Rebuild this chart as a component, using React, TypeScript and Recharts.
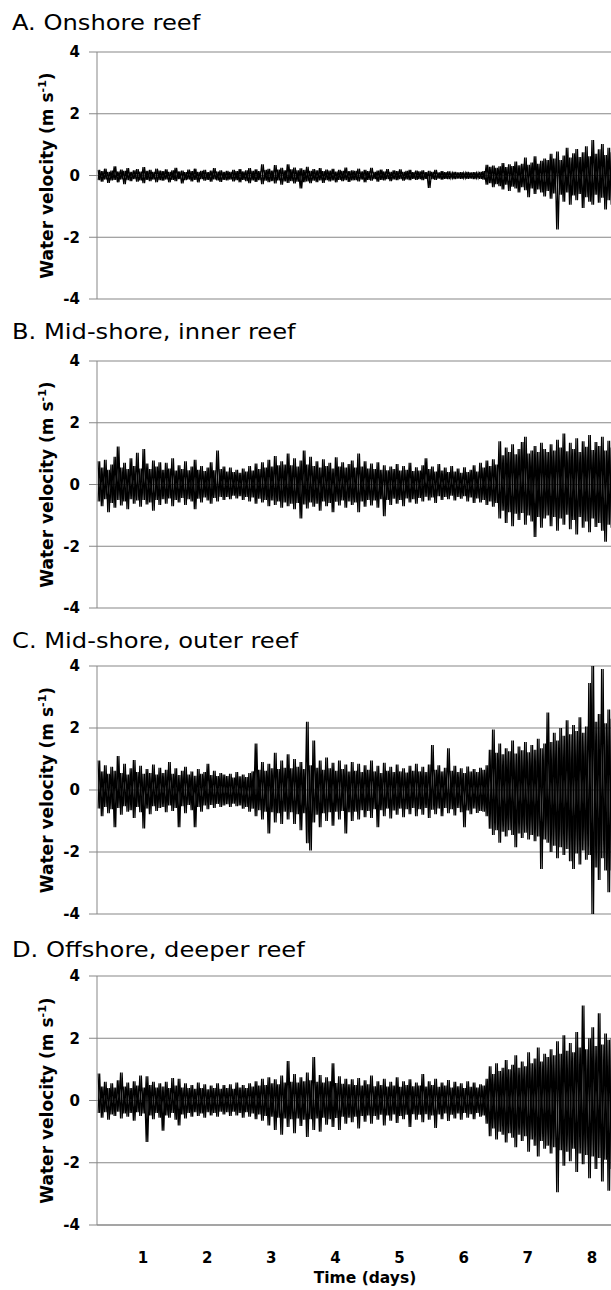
import { useMemo } from 'react'
import { LineChart, Line, XAxis, YAxis, CartesianGrid } from 'recharts'

// samples: upper peak at T0 + i*STEP, lower peak half a step later
const T0 = 0.3
const STEP = 0.05
const X_MIN = 0.283
const X_MAX = 8.64
const DAY_TICKS = [1, 2, 3, 4, 5, 6, 7, 8]
const VEL_TICKS = [-4, -2, 0, 2, 4]

const onshoreUp = [
  0.18, 0.14, 0.22, 0.12, 0.16, 0.30, 0.13, 0.19, 0.15, 0.24, 0.12, 0.17, 0.21, 0.13, 0.27, 0.15, 0.18, 0.12, 0.22, 0.16,
  0.14, 0.20, 0.12, 0.17, 0.25, 0.13, 0.16, 0.11, 0.19, 0.14, 0.22, 0.12, 0.15, 0.18, 0.11, 0.16, 0.24, 0.13, 0.17, 0.12,
  0.15, 0.12, 0.18, 0.14, 0.21, 0.13, 0.17, 0.24, 0.15, 0.20, 0.14, 0.36, 0.18, 0.22, 0.16, 0.34, 0.19, 0.25, 0.17, 0.36,
  0.20, 0.26, 0.17, 0.23, 0.18, 0.28, 0.15, 0.21, 0.17, 0.24, 0.14, 0.19, 0.16, 0.22, 0.13, 0.18, 0.15, 0.26, 0.14, 0.17,
  0.15, 0.22, 0.13, 0.18, 0.14, 0.25, 0.12, 0.16, 0.19, 0.13, 0.21, 0.12, 0.17, 0.14, 0.20, 0.12, 0.15, 0.18, 0.11, 0.16,
  0.13, 0.17, 0.11, 0.15, 0.12, 0.18, 0.10, 0.14, 0.11, 0.13, 0.09, 0.12, 0.10, 0.11, 0.09, 0.12, 0.10, 0.11, 0.09, 0.12,
  0.14, 0.35, 0.28, 0.32, 0.25, 0.30, 0.40, 0.27, 0.36, 0.31, 0.45, 0.33, 0.38, 0.58, 0.35, 0.42, 0.62, 0.38, 0.48, 0.55,
  0.50, 0.70, 0.55, 0.78, 0.50, 0.65, 0.90, 0.58, 0.72, 0.86, 0.60, 0.75, 0.95, 0.62, 1.15, 0.70, 0.85, 1.02, 0.66, 0.90,
  0.75,
]
const onshoreDn = [
  -0.15, -0.20, -0.13, -0.24, -0.16, -0.14, -0.22, -0.13, -0.28, -0.15, -0.18, -0.12, -0.20, -0.16, -0.25, -0.14, -0.18, -0.13, -0.22, -0.15,
  -0.17, -0.13, -0.22, -0.14, -0.18, -0.12, -0.26, -0.15, -0.13, -0.19, -0.14, -0.22, -0.12, -0.17, -0.14, -0.20, -0.13, -0.16, -0.21, -0.14,
  -0.16, -0.13, -0.19, -0.15, -0.22, -0.14, -0.18, -0.25, -0.16, -0.21, -0.15, -0.28, -0.17, -0.22, -0.18, -0.26, -0.16, -0.30, -0.19, -0.24,
  -0.18, -0.26, -0.20, -0.42, -0.22, -0.19, -0.25, -0.17, -0.22, -0.16, -0.24, -0.15, -0.19, -0.16, -0.22, -0.14, -0.18, -0.15, -0.21, -0.16,
  -0.15, -0.19, -0.13, -0.22, -0.14, -0.17, -0.12, -0.20, -0.14, -0.16, -0.12, -0.18, -0.13, -0.15, -0.12, -0.17, -0.13, -0.15, -0.11, -0.14,
  -0.12, -0.15, -0.11, -0.40, -0.12, -0.14, -0.10, -0.13, -0.11, -0.12, -0.09, -0.12, -0.10, -0.11, -0.09, -0.11, -0.10, -0.12, -0.09, -0.11,
  -0.13, -0.30, -0.25, -0.38, -0.28, -0.35, -0.45, -0.30, -0.50, -0.36, -0.42, -0.55, -0.38, -0.48, -0.70, -0.42, -0.60, -0.45, -0.55, -0.68,
  -0.50, -0.75, -0.58, -1.75, -0.62, -0.85, -0.55, -0.95, -0.65, -0.80, -0.60, -1.05, -0.70, -0.85, -0.95, -0.62, -0.88, -0.72, -1.10, -0.80,
  -0.95,
]

const innerUp = [
  0.75, 0.55, 0.80, 0.48, 0.65, 0.90, 1.23, 0.55, 0.70, 0.50, 0.85, 0.60, 1.03, 0.52, 1.15, 0.68, 0.50, 0.78, 0.58, 0.72,
  0.48, 0.70, 0.52, 0.85, 0.45, 0.62, 0.50, 0.75, 0.46, 0.58, 0.80, 0.48, 0.60, 0.44, 0.55, 0.72, 0.46, 1.10, 0.50, 0.58,
  0.42, 0.55, 0.40, 0.48, 0.38, 0.52, 0.42, 0.60, 0.45, 0.68, 0.50, 0.72, 0.55, 0.80, 0.58, 0.92, 0.62, 0.75, 0.65, 1.00,
  0.62, 0.85, 0.58, 0.78, 1.10, 0.65, 0.90, 0.60, 0.75, 0.55, 0.82, 0.60, 0.70, 0.52, 0.88, 0.58, 0.72, 0.55, 0.66, 0.78,
  0.55, 1.00, 0.58, 0.75, 0.52, 0.68, 0.50, 0.72, 0.48, 0.62, 0.46, 0.58, 0.50, 0.66, 0.45, 0.60, 0.48, 0.70, 0.44, 0.56,
  0.45, 0.62, 0.85, 0.50, 0.58, 0.42, 0.66, 0.45, 0.55, 0.40, 0.60, 0.42, 0.52, 0.38, 0.56, 0.40, 0.48, 0.62, 0.42, 0.70,
  0.55, 0.78, 0.60, 0.82, 0.65, 1.40, 0.95, 1.20, 1.05, 1.30, 0.98, 1.15, 1.38, 1.55, 1.00, 1.10, 1.25, 1.05, 1.35, 1.15,
  1.05, 1.30, 1.10, 1.45, 1.20, 1.65, 1.08, 1.35, 1.15, 1.50, 1.05, 1.40, 1.22, 1.60, 1.12, 1.38, 1.25, 1.55, 1.10, 1.42,
  1.20,
]
const innerDn = [
  -0.55, -0.70, -0.48, -0.90, -0.60, -0.75, -0.50, -0.68, -0.55, -0.80, -0.48, -0.62, -0.52, -0.72, -0.50, -0.65, -0.58, -0.85, -0.50, -0.66,
  -0.48, -0.62, -0.45, -0.70, -0.50, -0.58, -0.44, -0.66, -0.48, -0.55, -0.80, -0.46, -0.58, -0.42, -0.52, -0.62, -0.44, -0.55, -0.40, -0.50,
  -0.40, -0.48, -0.36, -0.45, -0.38, -0.50, -0.40, -0.55, -0.42, -0.62, -0.46, -0.58, -0.50, -0.70, -0.52, -0.66, -0.55, -0.75, -0.58, -0.70,
  -0.62, -0.80, -0.60, -1.10, -0.65, -0.78, -0.58, -0.72, -0.62, -0.85, -0.55, -0.70, -0.60, -0.90, -0.56, -0.68, -0.52, -0.75, -0.55, -0.66,
  -0.58, -0.90, -0.55, -0.72, -0.50, -0.68, -0.52, -0.75, -0.48, -1.03, -0.50, -0.66, -0.46, -0.62, -0.50, -0.70, -0.45, -0.58, -0.48, -0.62,
  -0.44, -0.55, -0.40, -0.52, -0.42, -0.60, -0.38, -0.50, -0.40, -0.48, -0.36, -0.52, -0.40, -0.46, -0.38, -0.55, -0.42, -0.60, -0.45, -0.58,
  -0.50, -0.66, -0.55, -0.72, -0.60, -1.10, -0.85, -1.25, -0.90, -1.35, -0.95, -1.15, -0.92, -1.30, -1.00, -1.20, -1.70, -1.05, -1.40, -1.10,
  -1.00, -1.35, -1.05, -1.50, -1.10, -1.30, -0.98, -1.45, -1.15, -1.62, -1.05, -1.40, -1.20, -1.55, -1.10, -1.38, -1.25, -1.50, -1.85, -1.30,
  -1.40,
]

const outerUp = [
  0.95, 0.60, 0.80, 0.52, 0.75, 0.62, 1.10, 0.55, 0.85, 0.50, 0.70, 0.97, 0.58, 0.78, 0.52, 0.68, 0.55, 0.82, 0.50, 0.72,
  0.55, 0.65, 0.90, 0.52, 0.70, 0.48, 0.62, 0.75, 0.50, 0.60, 0.46, 0.68, 0.52, 0.58, 0.85, 0.48, 0.62, 0.45, 0.55, 0.50,
  0.45, 0.52, 0.40, 0.58, 0.44, 0.50, 0.42, 0.55, 0.60, 1.50, 0.65, 0.90, 0.62, 0.85, 0.70, 1.20, 0.68, 0.95, 0.72, 1.15,
  0.70, 1.00, 0.75, 0.90, 0.68, 2.20, 0.80, 1.60, 0.72, 0.95, 0.65, 1.05, 0.70, 0.88, 0.62, 0.95, 0.68, 0.82, 0.60, 0.90,
  0.62, 0.85, 0.58, 0.80, 0.65, 0.95, 0.60, 0.78, 0.55, 0.88, 0.62, 0.75, 0.58, 0.82, 0.60, 0.70, 0.56, 0.78, 0.62, 0.85,
  0.60, 0.75, 0.58, 0.82, 1.45, 0.65, 0.80, 0.60, 0.72, 1.35, 0.62, 0.78, 0.58, 0.70, 0.55, 0.76, 0.60, 0.68, 0.58, 0.72,
  0.65, 0.80, 1.30, 1.95, 1.20, 1.50, 1.15, 1.35, 1.25, 1.60, 1.18, 1.40, 1.28, 1.55, 1.22, 1.45, 1.30, 1.65, 1.35, 1.50,
  2.50, 1.55, 1.85, 1.60, 2.00, 1.75, 2.25, 1.80, 2.10, 1.90, 2.35, 1.85, 2.05, 3.45, 4.00, 2.20, 2.45, 3.90, 2.15, 2.60,
  2.30,
]
const outerDn = [
  -0.60, -0.85, -0.55, -0.75, -0.62, -1.20, -0.58, -0.80, -0.52, -0.70, -0.65, -0.90, -0.55, -0.72, -1.24, -0.60, -0.78, -0.52, -0.68, -0.58,
  -0.55, -0.72, -0.50, -0.68, -0.58, -1.20, -0.52, -0.75, -0.48, -0.65, -1.20, -0.55, -0.70, -0.50, -0.62, -0.48, -0.58, -0.45, -0.55, -0.50,
  -0.46, -0.55, -0.44, -0.52, -0.50, -0.60, -0.55, -0.70, -0.60, -0.85, -0.65, -0.95, -0.70, -1.40, -0.72, -1.05, -0.75, -1.10, -0.70, -0.95,
  -0.72, -1.10, -0.78, -1.30, -0.75, -1.72, -1.95, -1.05, -0.80, -1.20, -0.75, -1.00, -0.72, -1.15, -0.70, -0.95, -0.68, -1.40, -0.72, -1.00,
  -0.70, -0.95, -0.65, -0.88, -0.68, -0.90, -0.62, -1.20, -0.65, -0.85, -0.60, -0.92, -0.66, -0.80, -0.60, -0.88, -0.62, -0.78, -0.58, -0.85,
  -0.62, -0.80, -0.58, -0.90, -0.64, -0.78, -0.60, -0.85, -0.58, -0.75, -0.62, -0.82, -0.58, -0.72, -1.20, -0.66, -0.78, -0.60, -0.74, -0.68,
  -0.70, -0.85, -1.25, -1.45, -1.30, -1.70, -1.35, -1.50, -1.30, -1.45, -1.85, -1.40, -1.55, -1.38, -1.60, -1.45, -1.65, -1.50, -2.55, -1.60,
  -1.70, -2.00, -1.80, -2.20, -1.85, -2.10, -1.90, -2.30, -2.55, -2.05, -2.40, -1.95, -2.25, -2.10, -4.00, -2.50, -2.90, -2.20, -2.60, -3.30,
  -2.60,
]

const deeperUp = [
  0.87, 0.45, 0.60, 0.40, 0.55, 0.42, 0.65, 0.90, 0.45, 0.58, 0.40, 0.62, 0.48, 0.80, 0.42, 0.78, 0.50, 0.60, 0.42, 0.55,
  0.45, 0.60, 0.40, 0.72, 0.48, 0.70, 0.42, 0.55, 0.40, 0.50, 0.38, 0.58, 0.40, 0.52, 0.36, 0.48, 0.40, 0.55, 0.38, 0.50,
  0.40, 0.52, 0.38, 0.58, 0.42, 0.50, 0.40, 0.55, 0.45, 0.62, 0.48, 0.70, 0.50, 0.75, 0.55, 0.68, 0.52, 0.80, 0.58, 1.27,
  0.60, 0.85, 0.58, 0.75, 0.62, 0.90, 0.65, 1.40, 0.60, 0.82, 0.58, 0.75, 0.62, 1.20, 0.56, 0.78, 0.54, 0.70, 0.52, 0.68,
  0.50, 0.72, 0.48, 0.65, 0.52, 0.80, 0.46, 0.62, 0.50, 0.70, 0.45, 0.60, 0.48, 0.75, 0.44, 0.62, 0.50, 0.68, 0.46, 0.58,
  0.48, 0.85, 0.45, 0.62, 0.50, 0.70, 0.44, 0.58, 0.48, 0.66, 0.42, 0.60, 0.46, 0.55, 0.40, 0.62, 0.44, 0.58, 0.42, 0.52,
  0.48, 0.70, 1.10, 0.85, 1.20, 0.95, 1.05, 1.30, 1.00, 1.15, 1.45, 1.05, 1.25, 1.10, 1.55, 1.20, 1.35, 1.70, 1.25, 1.50,
  1.40, 1.65, 1.45, 1.90, 1.50, 2.10, 1.60, 1.85, 1.55, 2.20, 1.70, 3.05, 1.65, 2.00, 2.35, 1.75, 2.80, 1.80, 2.15, 1.95,
  2.00,
]
const deeperDn = [
  -0.40, -0.55, -0.38, -0.62, -0.45, -0.50, -0.36, -0.58, -0.42, -0.52, -0.40, -0.65, -0.38, -0.50, -0.42, -1.33, -0.48, -0.60, -0.40, -0.55,
  -0.97, -0.48, -0.55, -0.40, -0.62, -0.80, -0.45, -0.58, -0.40, -0.52, -0.38, -0.50, -0.42, -0.55, -0.38, -0.48, -0.40, -0.52, -0.36, -0.45,
  -0.38, -0.50, -0.36, -0.48, -0.40, -0.55, -0.38, -0.52, -0.42, -0.60, -0.45, -0.65, -0.50, -0.80, -0.52, -0.95, -0.55, -1.10, -0.58, -0.85,
  -0.60, -1.05, -0.58, -0.82, -0.62, -1.17, -0.60, -0.95, -0.58, -1.00, -0.55, -0.78, -0.60, -0.85, -0.56, -0.95, -0.52, -0.75, -0.55, -0.70,
  -0.52, -0.90, -0.50, -0.68, -0.48, -0.75, -0.50, -0.62, -0.46, -0.80, -0.48, -0.65, -0.45, -0.72, -0.50, -0.60, -0.46, -0.85, -0.44, -0.62,
  -0.46, -0.70, -0.44, -0.62, -0.48, -0.88, -0.45, -0.60, -0.42, -0.66, -0.46, -0.58, -0.42, -0.62, -0.40, -0.55, -0.44, -0.60, -0.40, -0.52,
  -0.48, -0.75, -1.15, -0.90, -1.25, -1.00, -1.10, -1.35, -1.05, -1.20, -1.50, -1.10, -1.30, -1.15, -1.65, -1.25, -1.45, -1.80, -1.30, -1.55,
  -1.45, -1.70, -1.50, -2.95, -1.60, -2.10, -1.65, -1.95, -1.55, -2.30, -1.70, -2.05, -1.75, -2.50, -1.80, -2.20, -1.85, -2.60, -1.90, -2.90,
  -2.20,
]

const FONT = "'DejaVu Sans', Verdana, sans-serif"
const GRID = '#878787'
const PLOT_LEFT = 97
const CHART_W = 633

const panels = [
  { key: 'a', title: 'A. Onshore reef', up: onshoreUp, dn: onshoreDn, top: 52, h: 247, titleY: 30 },
  { key: 'b', title: 'B. Mid-shore, inner reef', up: innerUp, dn: innerDn, top: 361, h: 247, titleY: 339 },
  { key: 'c', title: 'C. Mid-shore, outer reef', up: outerUp, dn: outerDn, top: 666, h: 248, titleY: 648 },
  { key: 'd', title: 'D. Offshore, deeper reef', up: deeperUp, dn: deeperDn, top: 976, h: 249, titleY: 957 },
]

// two zig-zags through the same peaks, one starting high and one starting low,
// so the dense record reads as a filled band with spikes
function toSeries(up: number[], dn: number[]) {
  return up.flatMap((u, i) => [
    { t: T0 + i * STEP, v: u, w: dn[i] },
    { t: T0 + i * STEP + STEP / 2, v: dn[i], w: u },
  ])
}

function Panel({ p, last }: { p: (typeof panels)[number]; last: boolean }) {
  const data = useMemo(() => toSeries(p.up, p.dn), [p])
  const axisH = last ? 52 : 0
  return (
    <div style={{ position: 'absolute', left: 0, top: p.top - 10 }}>
      <LineChart width={CHART_W} height={p.h + 20 + axisH} data={data}
        margin={{ top: 10, right: 0, left: 0, bottom: 10 }}>
        <CartesianGrid vertical={false} stroke={GRID} />
        <XAxis type="number" dataKey="t" domain={[X_MIN, X_MAX]} allowDataOverflow
          ticks={DAY_TICKS} interval={0} hide={!last} height={axisH}
          axisLine={{ stroke: GRID }} tickLine={false} tickSize={0} tickMargin={27}
          tick={{ fill: '#000', fontFamily: FONT, fontSize: 15, fontWeight: 700 }} />
        <YAxis type="number" domain={[-4, 4]} ticks={VEL_TICKS} interval={0} allowDataOverflow
          width={PLOT_LEFT} tickSize={8} tickMargin={9}
          axisLine={{ stroke: GRID }} tickLine={{ stroke: GRID }}
          tick={{ fill: '#000', fontFamily: FONT, fontSize: 15, fontWeight: 700 }} />
        <Line type="linear" dataKey="v" stroke="#000" strokeWidth={1.2} dot={false}
          isAnimationActive={false} />
        <Line type="linear" dataKey="w" stroke="#000" strokeWidth={1.2} dot={false}
          isAnimationActive={false} />
      </LineChart>
    </div>
  )
}

export default function App() {
  return (
    <div style={{ position: 'absolute', left: 0, top: 0, width: 611, height: 1290,
      overflow: 'hidden', background: '#fff' }}>
      {panels.map((p, i) => <Panel key={p.key} p={p} last={i === panels.length - 1} />)}
      <svg width={611} height={1290} style={{ position: 'absolute', left: 0, top: 0, pointerEvents: 'none' }}>
        {panels.map(p => {
          const cy = p.top + p.h / 2
          return (
            <g key={p.key}>
              <text transform={`translate(12 ${p.titleY}) scale(1.1 1)`} fontFamily={FONT}
                fontSize={22} fill="#000">{p.title}</text>
              <text x={53} y={cy} transform={`rotate(-90, 53, ${cy})`} textAnchor="middle"
                fontFamily={FONT} fontSize={17} fontWeight={700} fill="#000">
                Water velocity (m s<tspan dy={-7} fontSize={11}>-1</tspan><tspan dy={7}>)</tspan>
              </text>
            </g>
          )
        })}
        <text x={365} y={1283} textAnchor="middle" fontFamily={FONT} fontSize={15.5}
          fontWeight={700} fill="#000">Time (days)</text>
      </svg>
    </div>
  )
}
